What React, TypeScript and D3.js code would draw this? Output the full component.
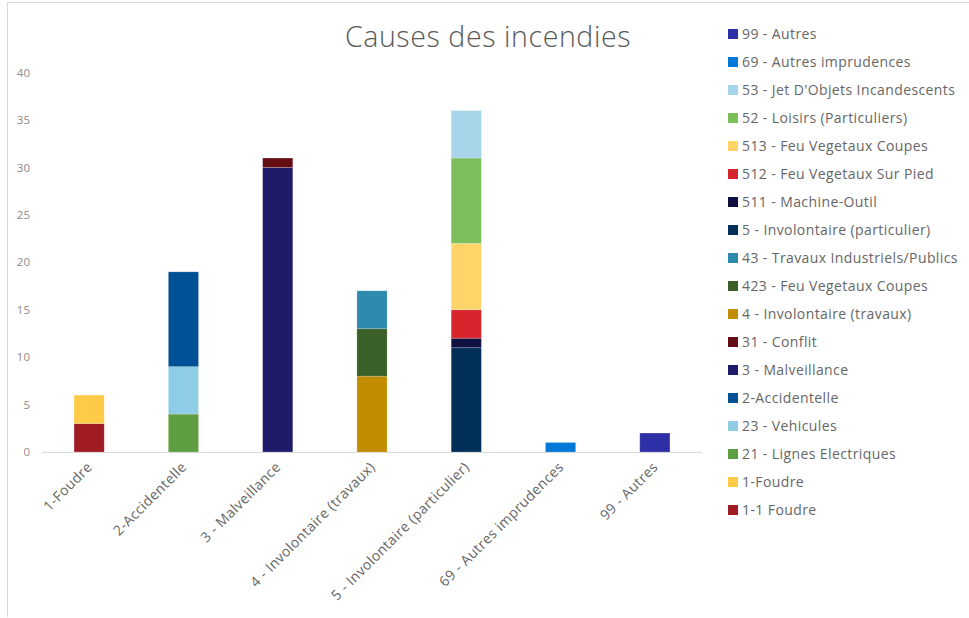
import React from "react";
import * as d3 from "d3";

const categories = [
  "1-Foudre",
  "2-Accidentelle",
  "3 - Malveillance",
  "4 - Involontaire (travaux)",
  "5 - Involontaire (particulier)",
  "69 - Autres imprudences",
  "99 - Autres",
];

// series in stacking order (bottom to top)
const seriesNames = [
  "1-1 Foudre",
  "1-Foudre",
  "21 - Lignes Electriques",
  "23 - Vehicules",
  "2-Accidentelle",
  "3 - Malveillance",
  "31 - Conflit",
  "4 - Involontaire (travaux)",
  "423 - Feu Vegetaux Coupes",
  "43 - Travaux Industriels/Publics",
  "5 - Involontaire (particulier)",
  "511 - Machine-Outil",
  "512 - Feu Vegetaux Sur Pied",
  "513 - Feu Vegetaux Coupes",
  "52 - Loisirs (Particuliers)",
  "53 - Jet D'Objets Incandescents",
  "69 - Autres imprudences",
  "99 - Autres",
];

const seriesColors = [
  "#A01B22",
  "#FFCA45",
  "#5C9E40",
  "#8FCCE5",
  "#005096",
  "#1D1B6A",
  "#650D15",
  "#C28C00",
  "#3A5F27",
  "#2E8BAE",
  "#003057",
  "#0F0F40",
  "#D7232C",
  "#FFD56A",
  "#7BBE5A",
  "#A6D4E8",
  "#0078D7",
  "#2E2EA6",
];

// value of each series per category (0 = absent)
const seriesValues: number[][] = [
  [3, 0, 0, 0, 0, 0, 0],
  [3, 0, 0, 0, 0, 0, 0],
  [0, 4, 0, 0, 0, 0, 0],
  [0, 5, 0, 0, 0, 0, 0],
  [0, 10, 0, 0, 0, 0, 0],
  [0, 0, 30, 0, 0, 0, 0],
  [0, 0, 1, 0, 0, 0, 0],
  [0, 0, 0, 8, 0, 0, 0],
  [0, 0, 0, 5, 0, 0, 0],
  [0, 0, 0, 4, 0, 0, 0],
  [0, 0, 0, 0, 11, 0, 0],
  [0, 0, 0, 0, 1, 0, 0],
  [0, 0, 0, 0, 3, 0, 0],
  [0, 0, 0, 0, 7, 0, 0],
  [0, 0, 0, 0, 9, 0, 0],
  [0, 0, 0, 0, 5, 0, 0],
  [0, 0, 0, 0, 0, 1, 0],
  [0, 0, 0, 0, 0, 0, 2],
];

const yTicks = [0, 5, 10, 15, 20, 25, 30, 35, 40];
const title = "Causes des incendies";

export default function App() {
  const W = 969;
  const H = 618;
  const x0 = 42, x1 = 702;
  const y0 = 452, yTop = 72.7;
  const font = "'Open Sans', 'Noto Sans', sans-serif";

  const x = d3.scaleBand<string>().domain(categories).range([x0, x1]).paddingInner(0.68).paddingOuter(0.34);
  const y = d3.scaleLinear().domain([0, 40]).range([y0, yTop]);

  const table = categories.map((c, i) => {
    const row: Record<string, any> = { cat: c };
    seriesNames.forEach((s, j) => (row[s] = seriesValues[j][i]));
    return row;
  });
  const stack = d3.stack<any>().keys(seriesNames)(table);

  const legendOrder = seriesNames.map((_, i) => i).reverse();

  return (
    <svg width={W} height={H} style={{ position: "absolute", left: 0, top: 0, background: "#fff" }}>
      <line x1={7.5} y1={2.5} x2={W} y2={2.5} stroke="#d9d9d9" strokeWidth={1} />
      <line x1={7.5} y1={2.5} x2={7.5} y2={617} stroke="#d9d9d9" strokeWidth={1} />
      <text x={488} y={47} textAnchor="middle" fontFamily={font} fontWeight={300} fontSize={28.5} letterSpacing={0.6} fill="#595959">
        {title}
      </text>
      {yTicks.map((t) => (
        <text key={t} x={30} y={y(t) + 4} textAnchor="end" fontFamily={font} fontSize={11.5} fill="#8c8c8c">
          {t}
        </text>
      ))}
      {stack.map((layer, j) => (
        <g key={seriesNames[j]} fill={seriesColors[j]}>
          {layer.map((d, i) =>
            d[1] - d[0] > 0 ? (
              <rect
                key={i}
                x={x(categories[i])!}
                y={y(d[1])}
                width={x.bandwidth()}
                height={y(d[0]) - y(d[1])}
                stroke="#ffffff"
                strokeOpacity={0.25}
                strokeWidth={0.8}
              />
            ) : null
          )}
        </g>
      ))}
      <line x1={x0} y1={y0 + 0.5} x2={x1} y2={y0 + 0.5} stroke="#d9d9d9" strokeWidth={1} />
      {categories.map((c) => {
        const cx = x(c)! + x.bandwidth() / 2 + 4;
        const cy = y0 + 16;
        return (
          <text
            key={c}
            transform={`translate(${cx},${cy}) rotate(-45)`}
            textAnchor="end"
            fontFamily={font}
            fontSize={14}
            letterSpacing={0.4}
            fill="#666666"
          >
            {c}
          </text>
        );
      })}
      {legendOrder.map((j, k) => {
        const ly = 34 + k * 28;
        return (
          <g key={seriesNames[j]}>
            <rect x={728} y={ly - 5} width={10} height={10} fill={seriesColors[j]} />
            <text x={742} y={ly + 5} fontFamily={font} fontSize={14} letterSpacing={0.4} fill="#666666">
              {seriesNames[j]}
            </text>
          </g>
        );
      })}
    </svg>
  );
}
